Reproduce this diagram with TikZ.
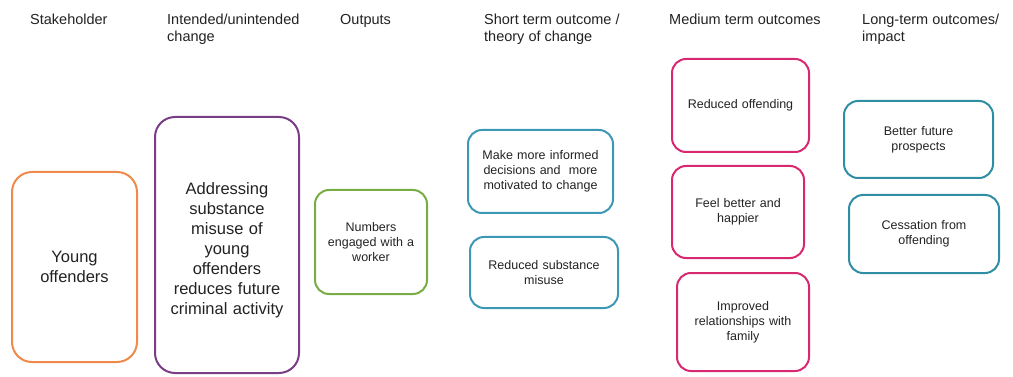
\documentclass[tikz,border=0pt]{standalone}
\usepackage{fontspec}
\setmainfont{Liberation Sans}
\definecolor{cOrange}{HTML}{F08A4B}
\definecolor{cPurple}{HTML}{7A3E86}
\definecolor{cGreen}{HTML}{78AD45}
\definecolor{cBlue}{HTML}{3D98B5}
\definecolor{cPink}{HTML}{D8286F}
\definecolor{cTeal}{HTML}{2F8EA3}
\definecolor{cText}{HTML}{222222}
\tikzset{
  header/.style={anchor=north west, align=left, text=cText, inner sep=0pt,
    font=\fontsize{14.5}{16.5}\selectfont},
  bigbox/.style={draw=#1, line width=2pt, rounded corners=20pt, text=cText,
    align=center, font=\fontsize{16.5}{20}\selectfont},
  smallbox/.style={draw=#1, line width=2pt, rounded corners=14pt, text=cText,
    align=center, font=\fontsize{12.5}{15}\selectfont},
}
% place a box by its pixel corners (x1,y1) -- (x2,y2), y measured downward
\newcommand{\boxat}[7]{%
  \node[#1, minimum width=#4pt-#2pt, minimum height=#5pt-#3pt, text width=#4pt-#2pt-14pt]
    (#6) at ({(#2+#4)/2*1pt}, {-(#3+#5)/2*1pt}) {#7};}
\begin{document}
\begin{tikzpicture}[x=1pt,y=1pt]
\useasboundingbox (0,0) rectangle (1013,-377);
% column headings
\node[header] (h1) at (30,-14) {Stakeholder};
\node[header] (h2) at (167,-14) {Intended/unintended\\change};
\node[header] (h3) at (340,-14) {Outputs};
\node[header] (h4) at (484,-14) {Short term outcome /\\theory of change};
\node[header] (h5) at (669,-14) {Medium term outcomes};
\node[header] (h6) at (862,-14) {Long-term outcomes/\\impact};
% stakeholder and change
\boxat{bigbox=cOrange}{12}{172}{137}{362}{young}{Young\\offenders}
\boxat{bigbox=cPurple}{155}{117}{299}{373}{change}{\mbox{}\\[2pt]Addressing\\substance\\misuse of\\young\\offenders\\reduces future\\criminal activity}
% outputs
\boxat{smallbox=cGreen}{315}{190}{427}{294}{outputs}{Numbers\\engaged with a\\worker}
% short term outcomes
\boxat{smallbox=cBlue}{468}{130}{613}{213}{short1}{Make more informed\\decisions and\ \ more\\motivated to change}
\boxat{smallbox=cBlue}{470}{237}{618}{308}{short2}{Reduced substance\\misuse}
% medium term outcomes
\boxat{smallbox=cPink}{672}{59}{809}{152}{med1}{Reduced offending}
\boxat{smallbox=cPink}{672}{166}{804}{258}{med2}{Feel better and\\happier}
\boxat{smallbox=cPink}{677}{273}{809}{371}{med3}{Improved\\relationships with\\family}
% long term outcomes
\boxat{smallbox=cTeal}{844}{101}{993}{178}{long1}{Better future\\prospects}
\boxat{smallbox=cTeal}{849}{195}{999}{273}{long2}{Cessation from\\offending}
\end{tikzpicture}
\end{document}
